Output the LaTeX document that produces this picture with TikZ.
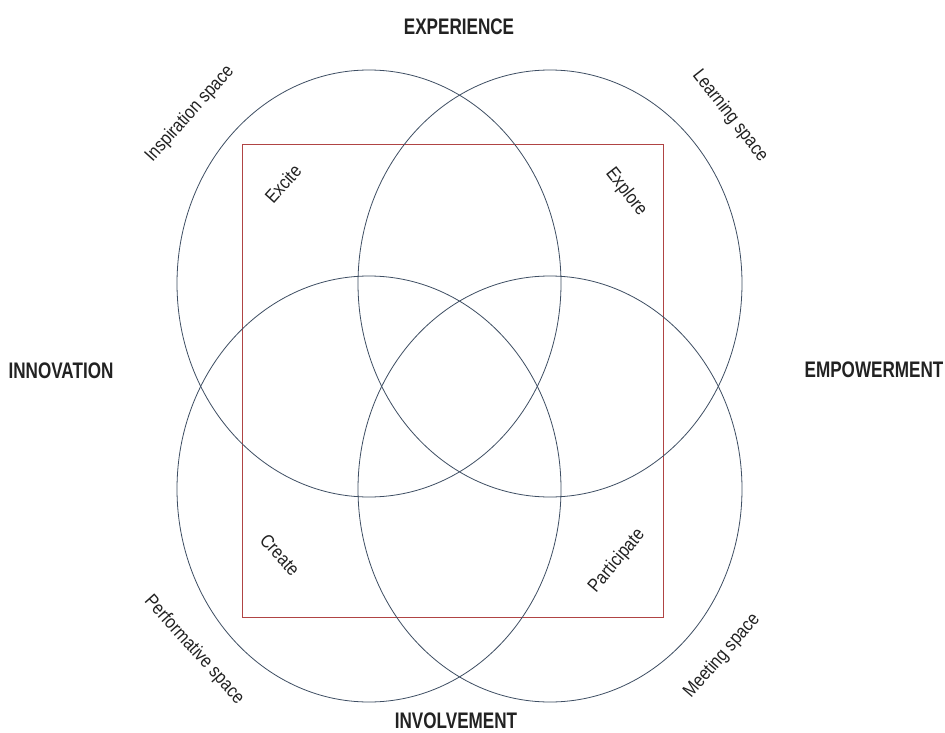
\documentclass[tikz,border=0pt]{standalone}
\usepackage{fontspec}
\setmainfont{Liberation Sans}
\newfontfamily\condfont[FakeStretch=0.86]{Liberation Sans}
\newfontfamily\headfont[FakeStretch=0.76]{Liberation Sans}
\definecolor{vennc}{HTML}{3E4E63}
\definecolor{framec}{HTML}{B04444}
\definecolor{txt}{HTML}{222222}
\begin{document}
\begin{tikzpicture}[x=1pt,y=-1pt,
  venn/.style={draw=vennc,line width=0.8pt},
  frame/.style={draw=framec,line width=1pt},
  head/.style={font=\headfont\bfseries\fontsize{22.5}{26}\selectfont,text=txt,inner sep=0pt},
  lab/.style={font=\condfont\fontsize{18.8}{21}\selectfont,text=txt,inner sep=0pt}]
\useasboundingbox[fill=white] (0,0) rectangle (945,733);
\draw[frame] (242,145) -- (663,145) -- (663,617) -- (242,617) -- cycle;
\draw[venn] (369,283.5) ellipse [x radius=192pt, y radius=213.5pt];
\draw[venn] (550,283.5) ellipse [x radius=192pt, y radius=213.5pt];
\draw[venn] (369,489) ellipse [x radius=192pt, y radius=213pt];
\draw[venn] (550,489) ellipse [x radius=192pt, y radius=213pt];
\node[head] (exp) at (459,27) {EXPERIENCE};
\node[head] (inn) at (61,371) {INNOVATION};
\node[head] (emp) at (874,370) {EMPOWERMENT};
\node[head] (inv) at (456,721) {INVOLVEMENT};
\node[lab,rotate=48] (insp) at (190,114) {Inspiration space};
\node[lab,rotate=-52] (learn) at (730,116) {Learning space};
\node[lab,rotate=48] (excite) at (283,184) {Excite};
\node[lab,rotate=-52] (explore) at (626,192) {Explore};
\node[lab,rotate=-48] (create) at (280,555) {Create};
\node[lab,rotate=50] (part) at (617,561) {Participate};
\node[lab,rotate=-48] (perf) at (194,650) {Performative space};
\node[lab,rotate=49] (meet) at (722,656) {Meeting space};
\end{tikzpicture}
\end{document}
